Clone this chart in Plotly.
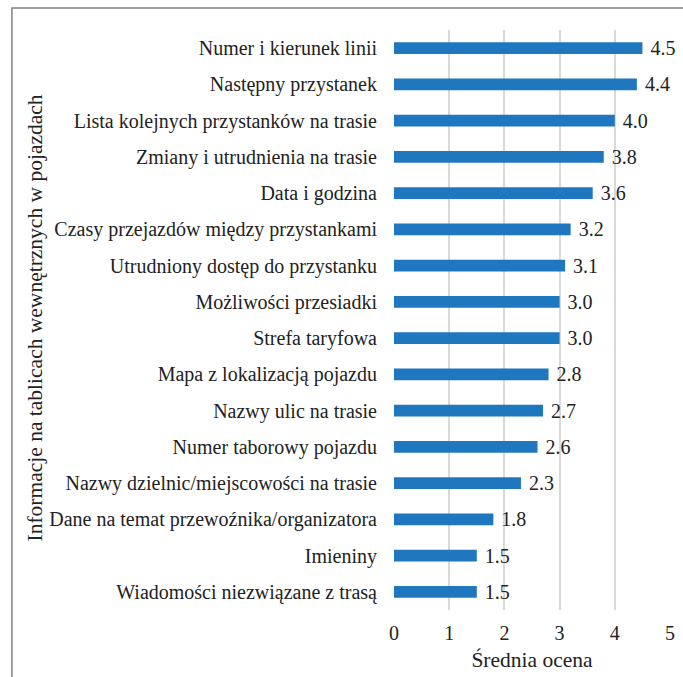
import plotly.graph_objects as go

categories = [
    "Numer i kierunek linii",
    "Następny przystanek",
    "Lista kolejnych przystanków na trasie",
    "Zmiany i utrudnienia na trasie",
    "Data i godzina",
    "Czasy przejazdów między przystankami",
    "Utrudniony dostęp do przystanku",
    "Możliwości przesiadki",
    "Strefa taryfowa",
    "Mapa z lokalizacją pojazdu",
    "Nazwy ulic na trasie",
    "Numer taborowy pojazdu",
    "Nazwy dzielnic/miejscowości na trasie",
    "Dane na temat przewoźnika/organizatora",
    "Imieniny",
    "Wiadomości niezwiązane z trasą",
]
values = [4.5, 4.4, 4.0, 3.8, 3.6, 3.2, 3.1, 3.0, 3.0, 2.8, 2.7, 2.6, 2.3, 1.8, 1.5, 1.5]
x_ticks = [0, 1, 2, 3, 4, 5]

FONT = "Liberation Serif, Times New Roman, serif"
INK = "#222222"

fig = go.Figure(
    go.Bar(
        y=categories,
        x=values,
        orientation="h",
        width=0.33,
        marker=dict(color="#1f77c0", line=dict(width=0)),
        text=[f" {v:.1f}" for v in values],
        textposition="outside",
        constraintext="none",
        textfont=dict(family=FONT, size=20, color=INK),
        cliponaxis=False,
    )
)

L, R, T, B = 394, 8, 30, 67
W, H = 683, 677
pw, ph = W - L - R, H - T - B

fig.update_layout(
    width=W,
    height=H,
    margin=dict(l=L, r=R, t=T, b=B),
    paper_bgcolor="white",
    plot_bgcolor="white",
    showlegend=False,
    font=dict(family=FONT, size=20, color=INK),
    xaxis=dict(
        range=[0, 5],
        tickvals=x_ticks,
        showgrid=True,
        gridcolor="#d9d9d9",
        gridwidth=1.5,
        zeroline=False,
        showline=False,
        ticks="",
        ticklabelstandoff=9,
        tickfont=dict(family=FONT, size=20, color=INK),
        title=dict(text="Średnia ocena", font=dict(family=FONT, size=21.5, color=INK), standoff=8),
    ),
    yaxis=dict(
        categoryorder="array",
        categoryarray=categories[::-1],
        showgrid=False,
        zeroline=False,
        showline=False,
        ticks="",
        ticklabelstandoff=16,
        tickfont=dict(family=FONT, size=20, color=INK),
    ),
    annotations=[
        dict(
            text="Informacje na tablicach wewnętrznych w pojazdach",
            xref="paper",
            yref="paper",
            x=(28 - L) / pw,
            y=(H - B - 318) / ph,
            xanchor="center",
            yanchor="middle",
            textangle=-90,
            showarrow=False,
            font=dict(family=FONT, size=21.5, color=INK),
        )
    ],
    shapes=[
        dict(
            type="rect",
            xref="paper",
            yref="paper",
            x0=(5 - L) / pw,
            x1=(W + 10 - L) / pw,
            y0=(H - B - (H + 10)) / ph,
            y1=(H - B - 8) / ph,
            line=dict(color="#808080", width=1.5),
            fillcolor="rgba(0,0,0,0)",
            layer="below",
        )
    ],
)

fig.write_html("out.html")
